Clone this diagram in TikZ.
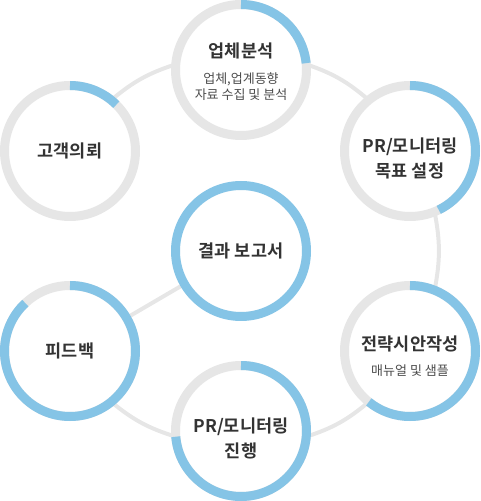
\documentclass[tikz,border=0pt]{standalone}
\usepackage{fontspec}
\setmainfont{Noto Sans CJK KR}[BoldFont={Noto Sans CJK KR Bold}]
\usetikzlibrary{backgrounds}
\definecolor{ringgray}{HTML}{E6E6E6}
\definecolor{ringblue}{HTML}{85C4E6}
\definecolor{titletext}{HTML}{333333}
\definecolor{subtext}{HTML}{4D4D4D}
\newcommand{\subline}{\fontsize{13}{16}\mdseries\selectfont\color{subtext}}

\begin{document}
\begin{tikzpicture}[x=1pt,y=1pt,
    ring/.style={circle,draw=ringgray,line width=9pt,fill=white,minimum size=131pt,
      inner sep=0pt,outer sep=0pt},
    tag/.style={align=center,text=titletext,inner sep=0pt,
      font=\fontsize{17.5}{25}\bfseries\selectfont},
    progress/.style={draw=ringblue,line width=9pt},
    link/.style={draw=ringgray,line width=4pt}]
    \useasboundingbox (0,0) rectangle (481,501);
    \path (70,350) node(req)[ring,label={[tag]center:고객의뢰}] {};
    \path (241,431) node(ana)[ring,label={[tag,yshift=-2pt]center:업체분석\\[1pt]\subline 업체,업계동향\\[-9pt]\subline 자료 수집 및 분석}] {};
    \path (410,350) node(goal)[ring,label={[tag,yshift=-7pt]center:PR/모니터링\\목표 설정}] {};
    \path (241,250) node(rep)[ring,draw=ringblue,label={[tag]center:결과 보고서}] {};
    \path (410,150) node(strat)[ring,label={[tag,yshift=-5pt]center:전략시안작성\\\subline 매뉴얼 및 샘플}] {};
    \path (241,70) node(run)[ring,label={[tag,yshift=-7pt]center:PR/모니터링\\진행}] {};
    \path (70,150) node(fb)[ring,label={[tag]center:피드백}] {};
    \begin{scope}[on background layer]
    \path (req.51) edge[link,bend left=11] (ana.175);
    \path (ana.5) edge[link,bend left=11] (goal.129);
    \path (goal.-68) edge[link,bend left=11] (strat.68);
    \path (strat.-129) edge[link,bend left=11] (run.-5);
    \path (run.-175) edge[link,bend left=11] (fb.-51);
    \path (fb) edge[link] (rep);
    \end{scope}
    \path (req.90) [progress] arc[start angle=90,end angle=45,radius=65.5];
    \path (ana.90) [progress] arc[start angle=90,end angle=6,radius=65.5];
    \path (goal.90) [progress] arc[start angle=90,end angle=-64,radius=65.5];
    \path (strat.90) [progress] arc[start angle=90,end angle=-129,radius=65.5];
    \path (run.90) [progress] arc[start angle=90,end angle=-175,radius=65.5];
    \path (fb.90) [progress] arc[start angle=90,end angle=-227,radius=65.5];
\end{tikzpicture}
\end{document}
